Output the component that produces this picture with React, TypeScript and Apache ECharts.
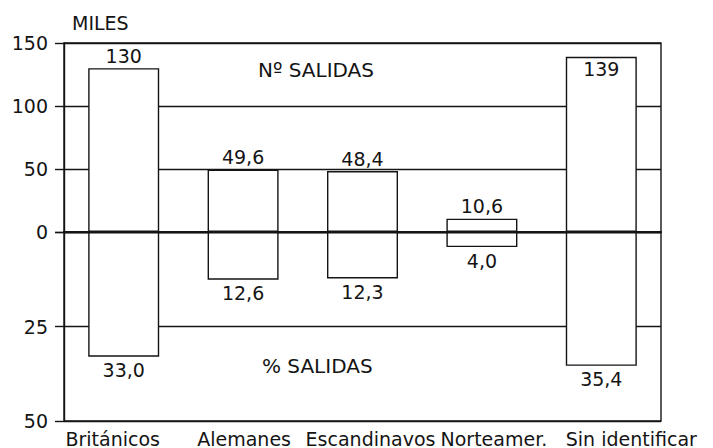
import React, { useEffect, useRef } from "react";
import * as echarts from "echarts";

const categories = ["Británicos", "Alemanes", "Escandinavos", "Norteamer.", "Sin identificar"];
const salidasMiles = [130, 49.6, 48.4, 10.6, 139];
const salidasPct = [33.0, 12.6, 12.3, 4.0, 35.4];
const milesTicks = [0, 50, 100, 150];
const pctTicks = [0, 25, 50];

const FONT = "DejaVu Sans";
const INK = "#141414";
const LW = 1.4;

const fmt = (n: number) => (n >= 100 ? String(n) : n.toFixed(1).replace(".", ","));

// shift of each category label relative to its band centre (px)
const labelShift = [-11, 1, 8, 12, 30];

export default function App() {
  const ref = useRef<HTMLDivElement>(null);
  useEffect(() => {
    if (!ref.current) return;
    const chart = echarts.init(ref.current, undefined, { renderer: "svg" });
    const rich: Record<string, any> = {};
    labelShift.forEach((s, i) => {
      rich["c" + i] = {
        fontFamily: FONT,
        fontSize: 19,
        color: INK,
        padding: s < 0 ? [0, -2 * s, 0, 0] : [0, 0, 0, 2 * s],
      };
    });
    const option: any = {
      animation: false,
      backgroundColor: "#fff",
      grid: [
        { left: 64, top: 43, width: 597, height: 189, show: true, borderColor: INK, borderWidth: LW, backgroundColor: "transparent" },
        { left: 64, top: 232, width: 597, height: 189, show: true, borderColor: INK, borderWidth: LW, backgroundColor: "transparent" },
      ],
      xAxis: [
        {
          type: "category",
          gridIndex: 0,
          data: categories,
          position: "bottom",
          z: 10,
          axisLine: { show: true, lineStyle: { color: INK, width: 1.8 } },
          axisTick: { show: false },
          axisLabel: { show: false },
          splitLine: { show: false },
        },
        {
          type: "category",
          gridIndex: 1,
          data: categories,
          position: "bottom",
          axisLine: { show: true, lineStyle: { color: INK, width: LW } },
          axisTick: { show: false },
          splitLine: { show: false },
          axisLabel: {
            interval: 0,
            margin: 8,
            fontFamily: FONT,
            fontSize: 19,
            color: INK,
            formatter: (v: string, i: number) => `{c${i}|${v}}`,
            rich,
          },
        },
      ],
      yAxis: [
        {
          type: "value",
          gridIndex: 0,
          min: milesTicks[0],
          max: milesTicks[milesTicks.length - 1],
          interval: 50,
          axisLine: { show: true, lineStyle: { color: INK, width: LW } },
          axisTick: { show: true, length: 9, lineStyle: { color: INK, width: LW } },
          splitLine: { show: true, lineStyle: { color: INK, width: LW } },
          axisLabel: { margin: 16, fontFamily: FONT, fontSize: 19, color: INK },
        },
        {
          type: "value",
          gridIndex: 1,
          inverse: true,
          min: pctTicks[0],
          max: pctTicks[pctTicks.length - 1],
          interval: 25,
          axisLine: { show: true, lineStyle: { color: INK, width: LW } },
          axisTick: { show: true, length: 9, lineStyle: { color: INK, width: LW } },
          splitLine: { show: true, lineStyle: { color: INK, width: LW } },
          axisLabel: {
            margin: 16,
            fontFamily: FONT,
            fontSize: 19,
            color: INK,
            formatter: (v: number) => (v === 0 ? "" : String(v)),
          },
        },
      ],
      series: [
        {
          type: "bar",
          xAxisIndex: 0,
          yAxisIndex: 0,
          barWidth: 71,
          data: salidasMiles.map((v) => ({
            value: v,
            label: { position: v > 135 ? "insideTop" : "top" },
          })),
          itemStyle: { color: "#fff", borderColor: INK, borderWidth: LW },
          label: {
            show: true,
            distance: 3,
            fontFamily: FONT,
            fontSize: 19,
            color: INK,
            formatter: (p: any) => fmt(p.value),
          },
        },
        {
          type: "bar",
          xAxisIndex: 1,
          yAxisIndex: 1,
          barWidth: 71,
          data: salidasPct,
          itemStyle: { color: "#fff", borderColor: INK, borderWidth: LW },
          label: {
            show: true,
            position: "bottom",
            distance: 4,
            fontFamily: FONT,
            fontSize: 19,
            color: INK,
            formatter: (p: any) => fmt(p.value),
          },
        },
      ],
      graphic: [
        {
          type: "text",
          left: 72,
          top: 13,
          style: { text: "MILES", fontFamily: FONT, fontSize: 19, fill: INK },
        },
        {
          type: "text",
          left: 258,
          top: 60,
          style: { text: "Nº SALIDAS", fontFamily: FONT, fontSize: 20, fill: INK },
        },
        {
          type: "text",
          left: 262,
          top: 356,
          style: { text: "% SALIDAS", fontFamily: FONT, fontSize: 20, fill: INK },
        },
      ],
    };
    chart.setOption(option);
    return () => chart.dispose();
  }, []);
  return <div ref={ref} style={{ width: 713, height: 448, position: "absolute", left: 0, top: 0 }} />;
}
